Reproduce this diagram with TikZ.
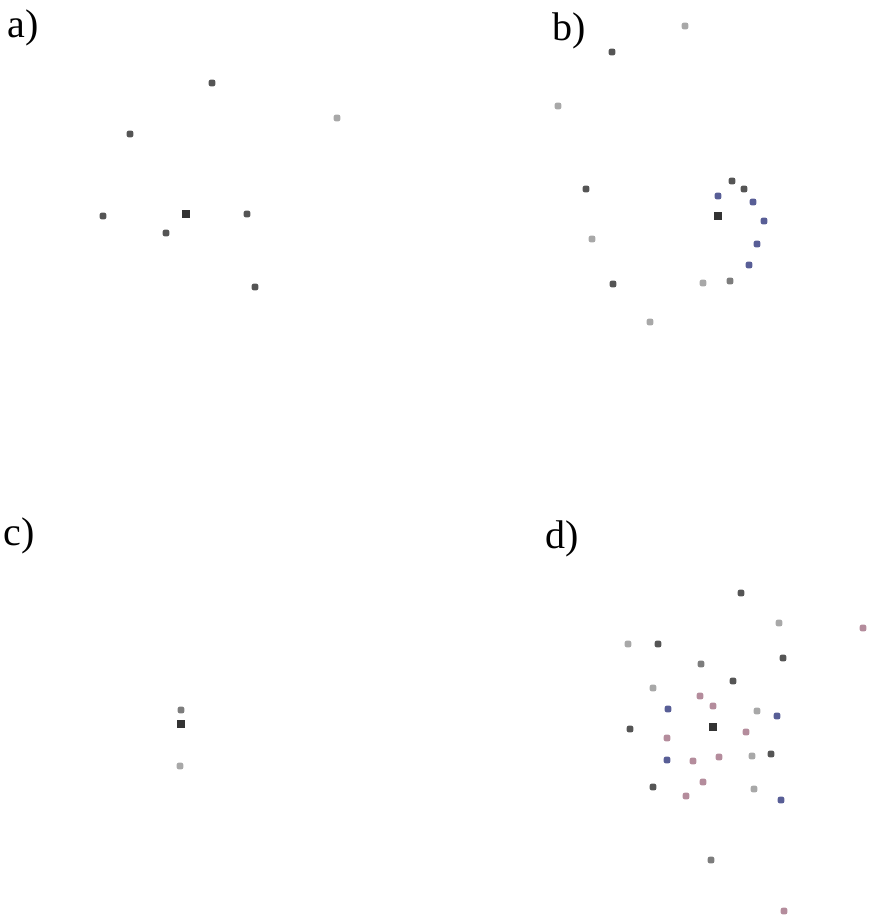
\documentclass[tikz,border=0pt]{standalone}
\usepackage{fontspec}
\setmainfont{Liberation Serif}
\usepackage{tikz}

\definecolor{dkgray}{RGB}{85,85,85}
\definecolor{mdgray}{RGB}{125,125,125}
\definecolor{ltgray}{RGB}{168,168,168}
\definecolor{dotblue}{RGB}{88,94,150}
\definecolor{dotpink}{RGB}{180,140,156}

\begin{document}
\begin{tikzpicture}[x=0.75pt,y=0.75pt,yscale=-1,xscale=1,
  dot/.style={rectangle,rounded corners=1.5pt,inner sep=0pt,minimum size=5pt},
  dkdot/.style={dot,fill=dkgray},
  mddot/.style={dot,fill=mdgray},
  ltdot/.style={dot,fill=ltgray},
  bldot/.style={dot,fill=dotblue},
  pkdot/.style={dot,fill=dotpink},
  ctr/.style={rectangle,inner sep=0pt,minimum size=6pt,fill=black!80},
  panel/.style={anchor=base west,inner sep=0pt,font=\fontsize{30}{34}\selectfont}]
%uncomment if require: \path (0,923); %set diagram left start at 0, and has height of 923
\useasboundingbox (0,0) rectangle (874,923);

% Text Node
\draw (7,38) node [panel] (la) {a)};
% Text Node
\draw (552,41) node [panel] (lb) {b)};
% Text Node
\draw (3,545) node [panel] (lc) {c)};
% Text Node
\draw (545,548) node [panel] (ld) {d)};

%Panel a
\node [ctr] (a0) at (186,214) {};
\node [dkdot] (a1) at (212,83) {};
\node [dkdot] (a2) at (130,134) {};
\node [ltdot] (a3) at (337,118) {};
\node [dkdot] (a4) at (103,216) {};
\node [dkdot] (a5) at (247,214) {};
\node [dkdot] (a6) at (166,233) {};
\node [dkdot] (a7) at (255,287) {};

%Panel b
\node [ctr] (b0) at (718,216) {};
\node [ltdot] (b1) at (685,26) {};
\node [dkdot] (b2) at (612,52) {};
\node [ltdot] (b3) at (558,106) {};
\node [dkdot] (b4) at (586,189) {};
\node [ltdot] (b5) at (592,239) {};
\node [dkdot] (b6) at (613,284) {};
\node [ltdot] (b7) at (650,322) {};
\node [ltdot] (b8) at (703,283) {};
\node [mddot] (b9) at (730,281) {};
\node [bldot] (b10) at (718,196) {};
\node [dkdot] (b11) at (732,181) {};
\node [dkdot] (b12) at (744,189) {};
\node [bldot] (b13) at (753,202) {};
\node [bldot] (b14) at (764,221) {};
\node [bldot] (b15) at (757,244) {};
\node [bldot] (b16) at (749,265) {};

%Panel c
\node [ctr] (c0) at (181,724) {};
\node [mddot] (c1) at (181,710) {};
\node [ltdot] (c2) at (180,766) {};

%Panel d
\node [ctr] (d0) at (713,727) {};
\node [dkdot] (d1) at (741,593) {};
\node [ltdot] (d2) at (779,623) {};
\node [pkdot] (d3) at (863,628) {};
\node [ltdot] (d4) at (628,644) {};
\node [dkdot] (d5) at (658,644) {};
\node [dkdot] (d6) at (783,658) {};
\node [mddot] (d7) at (701,664) {};
\node [dkdot] (d8) at (733,681) {};
\node [ltdot] (d9) at (653,688) {};
\node [pkdot] (d10) at (700,696) {};
\node [pkdot] (d11) at (713,706) {};
\node [bldot] (d12) at (668,709) {};
\node [ltdot] (d13) at (757,711) {};
\node [bldot] (d14) at (777,716) {};
\node [dkdot] (d15) at (630,729) {};
\node [pkdot] (d16) at (746,732) {};
\node [pkdot] (d17) at (667,738) {};
\node [bldot] (d18) at (667,760) {};
\node [pkdot] (d19) at (693,761) {};
\node [pkdot] (d20) at (719,757) {};
\node [ltdot] (d21) at (752,756) {};
\node [dkdot] (d22) at (771,754) {};
\node [dkdot] (d23) at (653,787) {};
\node [pkdot] (d24) at (703,782) {};
\node [pkdot] (d25) at (686,796) {};
\node [ltdot] (d26) at (754,789) {};
\node [bldot] (d27) at (781,800) {};
\node [mddot] (d28) at (711,860) {};
\node [pkdot] (d29) at (784,911) {};

\end{tikzpicture}
\end{document}
